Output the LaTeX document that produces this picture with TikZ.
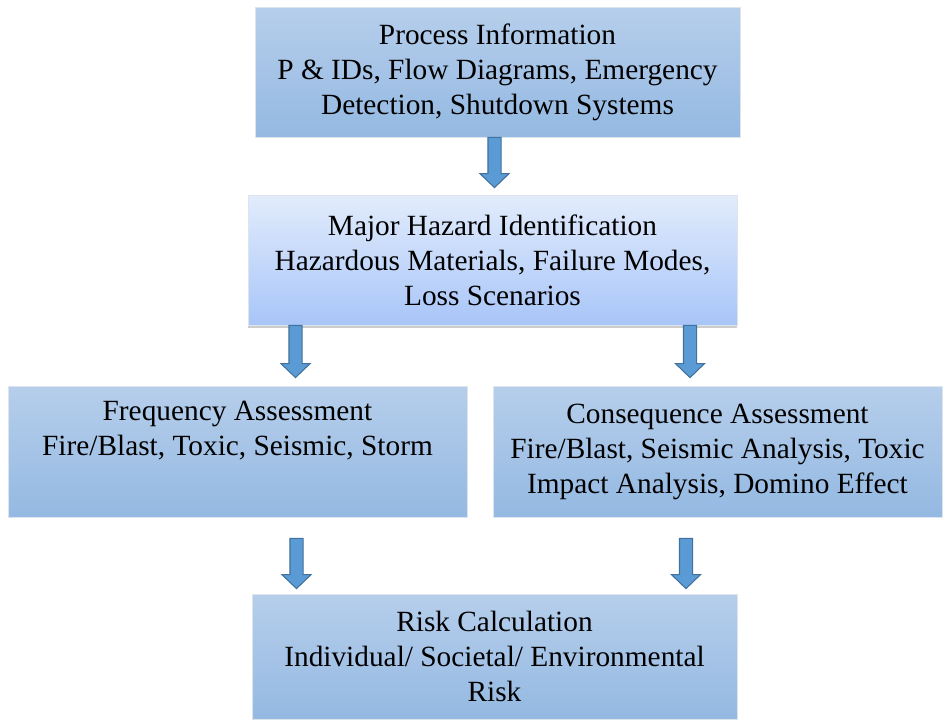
\documentclass[tikz,border=0pt]{standalone}
\usepackage{fontspec}
\setmainfont{Liberation Serif}
\usetikzlibrary{calc,shadows}

\definecolor{boxtop}{RGB}{182,206,235}
\definecolor{boxbottom}{RGB}{148,185,226}
\definecolor{hazardtop}{RGB}{226,236,252}
\definecolor{hazardbottom}{RGB}{168,197,248}
\definecolor{boxline}{RGB}{222,228,236}
\definecolor{arrowfill}{RGB}{91,155,213}
\definecolor{arrowline}{RGB}{65,113,156}

% fat arrow from #1 down to the tip at #2
\newcommand{\blockarrow}[2]{%
  \draw[blockarrow] let \p1=#1, \p2=#2 in
    (\x1-4.9pt,\y1) -- (\x1-4.9pt,\y2+10.5pt) -- (\x1-10.9pt,\y2+10.5pt)
    -- (\x1,\y2) -- (\x1+10.9pt,\y2+10.5pt) -- (\x1+4.9pt,\y2+10.5pt)
    -- (\x1+4.9pt,\y1) -- cycle;}

\begin{document}
\begin{tikzpicture}[x=0.75pt,y=-0.75pt,
  stage/.style={draw=boxline, line width=0.6pt, top color=boxtop, bottom color=boxbottom,
    align=center, inner sep=0pt, font=\fontsize{22}{26.25}\selectfont},
  hazardstage/.style={stage, top color=hazardtop, bottom color=hazardbottom,
    drop shadow={shadow xshift=0pt, shadow yshift=-2pt, opacity=0.4}},
  blockarrow/.style={fill=arrowfill, draw=arrowline, line width=0.8pt, line join=miter}]
  \useasboundingbox (0,0) rectangle (947,719);

  \node[stage, minimum width=363.75pt, minimum height=97.5pt] (info) at (497.5,72)
    {Process Information\\P \& IDs, Flow Diagrams, Emergency\\Detection, Shutdown Systems};
  \node[hazardstage, minimum width=366.75pt, minimum height=97.5pt] (hazard) at (492.5,260)
    {Major Hazard Identification\\Hazardous Materials, Failure Modes,\\Loss Scenarios};
  \node[stage, minimum width=344.25pt, minimum height=98.25pt] (freq) at (237.5,451.5)
    {Frequency Assessment\\Fire/Blast, Toxic, Seismic, Storm\\\strut};
  \node[stage, minimum width=336.75pt, minimum height=98.25pt] (cons) at (717.5,451.5)
    {Consequence Assessment\\Fire/Blast, Seismic Analysis, Toxic\\Impact Analysis, Domino Effect};
  \node[stage, minimum width=363.75pt, minimum height=93.75pt] (risk) at (494.5,656.5)
    {Risk Calculation\\Individual/ Societal/ Environmental\\Risk};

  \blockarrow{($(info.south)+(-3,0)$)}{($(hazard.north)+(0,-7)$)}
  \blockarrow{($(hazard.south)+(-197,0)$)}{($(freq.north)+(0,-8)$)}
  \blockarrow{($(hazard.south)+(197.5,0)$)}{($(cons.north)+(0,-8)$)}
  \blockarrow{($(freq.south)+(59,21)$)}{($(risk.north)+(0,-5)$)}
  \blockarrow{($(cons.south)+(-31.5,21)$)}{($(risk.north)+(0,-5)$)}
\end{tikzpicture}
\end{document}
